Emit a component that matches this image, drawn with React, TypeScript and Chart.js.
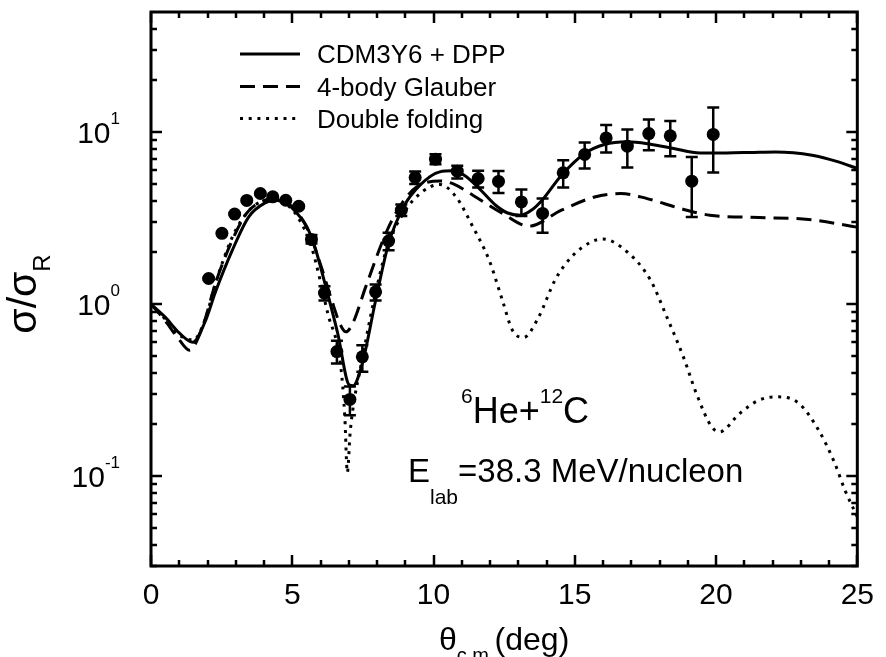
import React, { useEffect, useRef } from 'react';
import { Chart, registerables } from 'chart.js';

Chart.register(...registerables);

const FONT = '"Liberation Sans", Arial, Helvetica, sans-serif';

// ---- experimental data (theta c.m. in deg, sigma/sigma_R) ----
const expTheta = [2.04, 2.51, 2.96, 3.39, 3.87, 4.31, 4.77, 5.23, 5.68, 6.14, 6.58, 7.04, 7.48, 7.95, 8.41, 8.86, 9.35, 10.07, 10.84, 11.58, 12.3, 13.11, 13.86, 14.59, 15.35, 16.11, 16.86, 17.62, 18.38, 19.14, 19.9];
const expValue = [1.41, 2.58, 3.34, 4.01, 4.4, 4.21, 4.02, 3.71, 2.38, 1.16, 0.53, 0.279, 0.494, 1.18, 2.33, 3.52, 5.45, 6.97, 5.93, 5.38, 5.17, 3.93, 3.37, 5.8, 7.42, 9.26, 8.29, 9.82, 9.52, 5.19, 9.7];
const expLow = [1.39, 2.55, 3.3, 3.96, 4.35, 4.16, 3.97, 3.66, 2.25, 1.05, 0.452, 0.226, 0.404, 1.05, 2.06, 3.25, 5.0, 6.5, 5.37, 4.77, 4.43, 3.25, 2.6, 4.77, 6.15, 7.62, 6.23, 7.86, 7.25, 3.21, 5.82];
const expHigh = [1.43, 2.61, 3.38, 4.06, 4.45, 4.26, 4.07, 3.76, 2.52, 1.27, 0.612, 0.332, 0.577, 1.3, 2.6, 3.8, 5.9, 7.45, 6.37, 5.96, 5.94, 4.64, 4.11, 6.87, 8.7, 11.0, 10.35, 11.87, 11.6, 7.18, 13.9];

// ---- CDM3Y6 + DPP (solid) ----
const solidTheta = [0, 0.5, 1.0, 1.48, 1.9, 2.3, 2.88, 3.46, 4.04, 4.4, 4.8, 5.15, 5.5, 5.8, 6.14, 6.61, 7.02, 7.15, 7.48, 7.95, 8.41, 8.94, 9.52, 10.22, 10.69, 11.1, 11.62, 12.2, 12.6, 13.08, 13.5, 13.84, 14.53, 15.35, 16.05, 16.86, 17.68, 18.5, 19.43, 20.36, 21.2, 22.1, 23.4, 24.33, 25];
const solidValue = [1.0, 0.84, 0.68, 0.6, 0.78, 1.2, 2.06, 3.22, 3.88, 4.02, 3.85, 3.4, 2.85, 2.15, 1.35, 0.675, 0.338, 0.335, 0.452, 1.05, 2.25, 3.68, 4.92, 5.88, 5.96, 5.6, 4.7, 3.76, 3.4, 3.29, 3.55, 4.02, 5.62, 7.52, 8.48, 8.79, 8.51, 8.04, 7.58, 7.58, 7.62, 7.68, 7.35, 6.72, 6.15];

// ---- 4-body Glauber (dashed) ----
const dashTheta = [0, 0.5, 1.0, 1.36, 1.8, 2.3, 2.9, 3.4, 4.0, 4.3, 4.8, 5.2, 5.6, 6.0, 6.4, 6.7, 6.9, 7.15, 7.6, 8.36, 8.9, 9.41, 10.22, 10.7, 11.39, 12.44, 13.37, 14.53, 15.7, 16.63, 17.56, 18.73, 19.78, 21.53, 23.28, 24.79, 25];
const dashValue = [1.0, 0.8, 0.62, 0.54, 0.72, 1.35, 2.4, 3.4, 4.0, 4.1, 3.9, 3.4, 2.6, 1.7, 1.05, 0.76, 0.69, 0.78, 1.26, 2.69, 3.9, 4.81, 5.21, 5.0, 4.3, 3.37, 2.84, 3.52, 4.2, 4.4, 4.11, 3.6, 3.29, 3.19, 3.11, 2.84, 2.8];

// ---- Double folding (dotted) ----
const dotTheta = [0, 0.5, 1.0, 1.5, 1.9, 2.3, 2.9, 3.4, 4.0, 4.4, 4.8, 5.2, 5.68, 6.26, 6.72, 6.86, 6.95, 7.05, 7.2, 7.42, 7.89, 8.36, 9.0, 9.6, 10.22, 10.8, 11.39, 11.97, 12.44, 12.79, 13.19, 13.72, 14.3, 14.88, 15.58, 15.99, 16.86, 17.68, 18.26, 18.85, 19.31, 19.84, 20.13, 20.83, 21.53, 22.17, 22.93, 23.63, 24.2, 24.56, 25];
const dotValue = [1.0, 0.82, 0.66, 0.62, 0.8, 1.35, 2.5, 3.4, 4.0, 4.05, 3.8, 3.2, 2.15, 0.88, 0.43, 0.22, 0.105, 0.18, 0.28, 0.43, 1.05, 2.15, 3.5, 4.5, 4.97, 4.2, 2.82, 1.8, 1.05, 0.706, 0.64, 0.84, 1.38, 1.88, 2.3, 2.39, 2.01, 1.38, 0.84, 0.49, 0.3, 0.194, 0.181, 0.231, 0.277, 0.289, 0.265, 0.185, 0.119, 0.083, 0.058];

// ---- axes ----
const xMin = 0;
const xMax = 25;
const yMin = 0.03;
const yMax = 50;
const xTickValues = [0, 1, 2, 3, 4, 5, 6, 7, 8, 9, 10, 11, 12, 13, 14, 15, 16, 17, 18, 19, 20, 21, 22, 23, 24, 25];
const xMajorStep = 5;
const yTickValues = [0.03, 0.04, 0.05, 0.06, 0.07, 0.08, 0.09, 0.1, 0.2, 0.3, 0.4, 0.5, 0.6, 0.7, 0.8, 0.9, 1, 2, 3, 4, 5, 6, 7, 8, 9, 10, 20, 30, 40];
const yMajorTicks = [0.1, 1, 10];
const yMajorExponents = ['-1', '0', '1'];

const legendLabels = ['CDM3Y6 + DPP', '4-body Glauber', 'Double folding'];

type Part = { text: string; size: number; dy: number };

function drawParts(ctx: CanvasRenderingContext2D, x: number, y: number, parts: Part[], align: 'left' | 'center' | 'right') {
  const widths = parts.map((p) => {
    ctx.font = `${p.size}px ${FONT}`;
    return ctx.measureText(p.text).width;
  });
  const total = widths.reduce((a, b) => a + b, 0);
  let cx = align === 'left' ? x : align === 'center' ? x - total / 2 : x - total;
  ctx.textAlign = 'left';
  ctx.textBaseline = 'alphabetic';
  parts.forEach((p, i) => {
    ctx.font = `${p.size}px ${FONT}`;
    ctx.fillText(p.text, cx, y + p.dy);
    cx += widths[i];
  });
}

const decorPlugin = {
  id: 'decor',
  afterDatasetsDraw(chart: any) {
    const ctx: CanvasRenderingContext2D = chart.ctx;
    const xs = chart.scales.x;
    const ys = chart.scales.y;
    ctx.save();
    ctx.strokeStyle = '#000';
    ctx.lineWidth = 2.5;
    ctx.lineCap = 'butt';
    expTheta.forEach((t, i) => {
      const px = xs.getPixelForValue(t);
      const yl = ys.getPixelForValue(expLow[i]);
      const yh = ys.getPixelForValue(expHigh[i]);
      ctx.beginPath();
      ctx.moveTo(px, yl);
      ctx.lineTo(px, yh);
      ctx.moveTo(px - 6, yl);
      ctx.lineTo(px + 6, yl);
      ctx.moveTo(px - 6, yh);
      ctx.lineTo(px + 6, yh);
      ctx.stroke();
    });
    ctx.restore();
  },
  afterDraw(chart: any) {
    const ctx: CanvasRenderingContext2D = chart.ctx;
    const xs = chart.scales.x;
    const ys = chart.scales.y;
    const { left, right, top, bottom } = chart.chartArea;
    ctx.save();
    ctx.strokeStyle = '#000';
    ctx.fillStyle = '#000';
    // frame
    ctx.lineWidth = 3;
    ctx.strokeRect(left, top, right - left, bottom - top);
    // ticks
    ctx.lineWidth = 2.5;
    ctx.beginPath();
    xTickValues.forEach((t) => {
      const px = Math.round(xs.getPixelForValue(t));
      const len = t % xMajorStep === 0 ? 11 : 6;
      ctx.moveTo(px, bottom);
      ctx.lineTo(px, bottom - len);
      ctx.moveTo(px, top);
      ctx.lineTo(px, top + len);
    });
    yTickValues.forEach((v) => {
      const py = Math.round(ys.getPixelForValue(v));
      const len = yMajorTicks.includes(v) ? 11 : 6;
      ctx.moveTo(left, py);
      ctx.lineTo(left + len, py);
      ctx.moveTo(right, py);
      ctx.lineTo(right - len, py);
    });
    ctx.stroke();

    // y tick labels 10^n
    yMajorTicks.forEach((v, i) => {
      const py = ys.getPixelForValue(v);
      drawParts(ctx, 120, py + 11, [
        { text: '10', size: 30, dy: 0 },
        { text: yMajorExponents[i], size: 17, dy: -19 },
      ], 'right');
    });

    // y title
    ctx.save();
    ctx.translate(36, (top + bottom) / 2 + 5);
    ctx.rotate(-Math.PI / 2);
    drawParts(ctx, 0, 0, [
      { text: 'σ/σ', size: 41, dy: 0 },
      { text: 'R', size: 24, dy: 14 },
    ], 'center');
    ctx.restore();

    // x title
    drawParts(ctx, (left + right) / 2, 650, [
      { text: 'θ', size: 32, dy: 0 },
      { text: 'c.m.', size: 20, dy: 12 },
      { text: '(deg)', size: 32, dy: 0 },
    ], 'center');

    // legend
    const rowY = [54, 86.5, 118.5];
    const dashes = [[], [15, 8], [3, 5.7]];
    rowY.forEach((ry, i) => {
      ctx.save();
      ctx.lineWidth = 3;
      ctx.setLineDash(dashes[i]);
      ctx.beginPath();
      ctx.moveTo(240, ry);
      ctx.lineTo(300, ry);
      ctx.stroke();
      ctx.restore();
      drawParts(ctx, 317, ry + 9, [{ text: legendLabels[i], size: 26, dy: 0 }], 'left');
    });

    // annotations
    drawParts(ctx, 461, 423, [
      { text: '6', size: 21, dy: -20 },
      { text: 'He+', size: 36, dy: 0 },
      { text: '12', size: 21, dy: -20 },
      { text: 'C', size: 36, dy: 0 },
    ], 'left');
    drawParts(ctx, 408, 482, [
      { text: 'E', size: 33, dy: 0 },
      { text: 'lab', size: 21, dy: 22 },
      { text: '=38.3 MeV/nucleon', size: 33, dy: 0 },
    ], 'left');
    ctx.restore();
  },
};

export default function App() {
  const canvasRef = useRef<HTMLCanvasElement | null>(null);

  useEffect(() => {
    if (!canvasRef.current) return;
    Chart.defaults.font.family = FONT;
    const chart = new Chart(canvasRef.current, {
      type: 'line',
      data: {
        datasets: [
          {
            label: 'Exp',
            data: expTheta.map((t, i) => ({ x: t, y: expValue[i] })),
            showLine: false,
            pointRadius: 6.5,
            pointHoverRadius: 6.5,
            pointBackgroundColor: '#000',
            pointBorderWidth: 0,
            borderColor: '#000',
            order: 0,
          },
          {
            label: legendLabels[0],
            data: solidTheta.map((t, i) => ({ x: t, y: solidValue[i] })),
            borderColor: '#000',
            borderWidth: 3,
            pointRadius: 0,
            cubicInterpolationMode: 'monotone',
            order: 1,
          },
          {
            label: legendLabels[1],
            data: dashTheta.map((t, i) => ({ x: t, y: dashValue[i] })),
            borderColor: '#000',
            borderWidth: 3,
            borderDash: [15, 8],
            pointRadius: 0,
            cubicInterpolationMode: 'monotone',
            order: 2,
          },
          {
            label: legendLabels[2],
            data: dotTheta.map((t, i) => ({ x: t, y: dotValue[i] })),
            borderColor: '#000',
            borderWidth: 3,
            borderDash: [3, 5.7],
            borderCapStyle: 'butt',
            pointRadius: 0,
            cubicInterpolationMode: 'monotone',
            order: 3,
          },
        ],
      },
      options: {
        responsive: false,
        maintainAspectRatio: false,
        animation: false,
        events: [],
        layout: { padding: { left: 0, right: 20, top: 12, bottom: 0 } },
        plugins: {
          legend: { display: false },
          tooltip: { enabled: false },
          title: { display: false },
        },
        scales: {
          x: {
            type: 'linear',
            min: xMin,
            max: xMax,
            afterFit: (s: any) => {
              s.height = 91;
            },
            grid: { display: false, drawTicks: false },
            border: { display: false },
            ticks: {
              stepSize: xMajorStep,
              color: '#000',
              padding: 12,
              maxRotation: 0,
              font: { size: 30, family: FONT },
            },
          },
          y: {
            type: 'logarithmic',
            min: yMin,
            max: yMax,
            afterFit: (s: any) => {
              s.width = 151;
            },
            grid: { display: false, drawTicks: false },
            border: { display: false },
            ticks: { display: false },
          },
        },
      },
      plugins: [decorPlugin],
    } as any);
    return () => chart.destroy();
  }, []);

  return (
    <div style={{ position: 'fixed', left: 0, top: 0, width: 886, height: 657, background: '#fff' }}>
      <canvas ref={canvasRef} width={886} height={657} style={{ display: 'block' }} />
    </div>
  );
}
